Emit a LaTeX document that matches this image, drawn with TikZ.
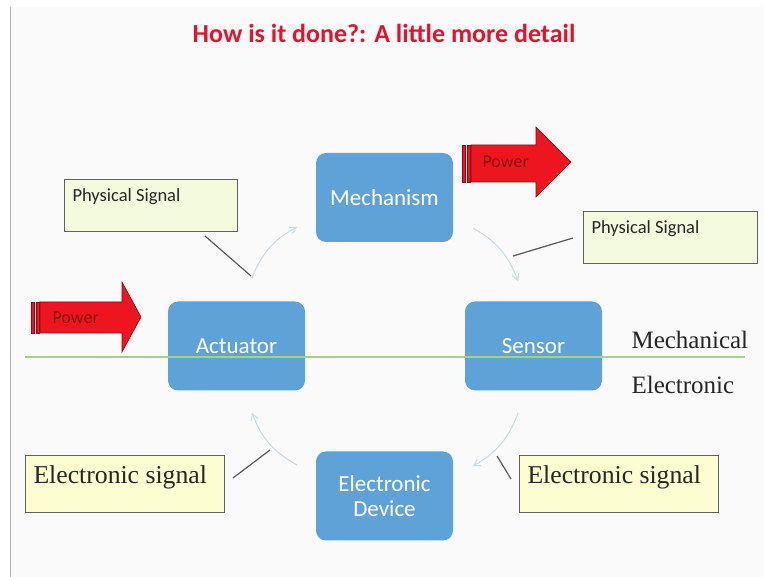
\documentclass[tikz,border=0pt]{standalone}
\usepackage{fontspec}
\setmainfont{Liberation Serif}
\newfontfamily\carlitofont{Carlito}
\usetikzlibrary{arrows.meta}
\definecolor{boxblue}{HTML}{5FA2D8}
\definecolor{titlered}{HTML}{E2142D}
\definecolor{arrred}{HTML}{EC1520}
\definecolor{arrdark}{HTML}{8A0A10}
\definecolor{psfill}{HTML}{F4FADC}
\definecolor{esfill}{HTML}{FCFED2}
\definecolor{lineg}{HTML}{A6D08A}
\definecolor{flowc}{HTML}{C4DDE2}
\definecolor{slidebg}{HTML}{FAFAFA}
\tikzset{
  blockbox/.style={draw=none, fill=boxblue, rounded corners=10pt, text=white,
    font=\carlitofont\fontsize{23}{25}\selectfont, align=center, minimum width=137pt, minimum height=89pt, inner sep=0pt},
  sigbox/.style={draw=gray!75!black, line width=0.8pt, anchor=north west, inner sep=0pt},
  pslabel/.style={anchor=west, font=\carlitofont\fontsize{18.5}{20}\selectfont, text=black!85},
  eslabel/.style={anchor=west, font=\fontsize{25.7}{28}\selectfont, text=black!85},
  pointer/.style={draw=gray!70!black, line width=1.2pt},
  flow/.style={draw=flowc, line width=1pt, -{Straight Barb[length=6pt,width=7pt]}},
  redarrow/.style={fill=arrred, draw=arrdark, line width=0.6pt},
  powertext/.style={anchor=west, font=\carlitofont\fontsize{18}{20}\selectfont, text=arrdark},
  sidetext/.style={anchor=west, font=\fontsize{25}{28}\selectfont, text=black!85}
}
\begin{document}
\begin{tikzpicture}[x=1pt, y=-1pt]
\useasboundingbox (0,0) rectangle (764,577);
\fill[white] (0,0) rectangle (764,577);
\fill[slidebg] (10,7) rectangle (764,577);
\draw[gray!60, line width=0.8pt] (10,7) -- (10,577);

% title
\node[font=\carlitofont\bfseries\fontsize{26}{28}\selectfont, text=titlered] (title) at (384,33) {How is it done?: A little more detail};

% main blocks
\node[blockbox] (mech) at (384.5,197.5) {Mechanism};
\node[blockbox] (act) at (236.5,346) {Actuator};
\node[blockbox] (sens) at (533.5,346) {Sensor};
\node[blockbox] (edev) at (384.5,496) {Electronic\\Device};

% dividing line
\coordinate (gl) at (25,357);
\coordinate (gr) at (745,357);
\draw[lineg, line width=1.3pt] (gl) -- (gr);
\node[sidetext] (mechtxt) at (628,340) {Mechanical};
\node[sidetext] (electxt) at (628,385) {Electronic};

% signal boxes
\node[sigbox, fill=psfill, minimum width=173pt, minimum height=52pt] (ps1) at (64,179) {};
\node[pslabel] (ps1t) at ([xshift=5pt,yshift=-18pt]ps1.north west) {Physical Signal};
\node[sigbox, fill=psfill, minimum width=174pt, minimum height=52pt] (ps2) at (583,211) {};
\node[pslabel] (ps2t) at ([xshift=5pt,yshift=-18pt]ps2.north west) {Physical Signal};
\node[sigbox, fill=esfill, minimum width=199pt, minimum height=57pt] (es1) at (25,455) {};
\node[eslabel] (es1t) at ([xshift=5pt,yshift=-22pt]es1.north west) {Electronic signal};
\node[sigbox, fill=esfill, minimum width=199pt, minimum height=57pt] (es2) at (519,455) {};
\node[eslabel] (es2t) at ([xshift=5pt,yshift=-22pt]es2.north west) {Electronic signal};

% flow arrows
\coordinate (f1a) at (252,278); \coordinate (f1b) at (297,227);
\coordinate (f2a) at (473,228); \coordinate (f2b) at (518,281);
\coordinate (f3a) at (518,413); \coordinate (f3b) at (473,466);
\coordinate (f4a) at (297,465); \coordinate (f4b) at (252,413);
\draw[flow] (f1a) to[bend left=20] (f1b);
\draw[flow] (f2a) to[bend left=20] (f2b);
\draw[flow] (f3a) to[bend left=20] (f3b);
\draw[flow] (f4a) to[bend left=20] (f4b);

% pointer lines
\coordinate (p1a) at (205,236); \coordinate (p1b) at (251,276);
\coordinate (p2a) at (573,238); \coordinate (p2b) at (513,256);
\coordinate (p3a) at (233,478); \coordinate (p3b) at (270,450);
\coordinate (p4a) at (497,456); \coordinate (p4b) at (511,479);
\draw[pointer] (p1a) -- (p1b);
\draw[pointer] (p2a) -- (p2b);
\draw[pointer] (p3a) -- (p3b);
\draw[pointer] (p4a) -- (p4b);

% power arrows
\draw[redarrow] (31,302) rectangle (34,333);
\draw[redarrow] (36,302) rectangle (39,333);
\draw[redarrow] (40,302) -- (122,302) -- (122,282) -- (141,317) -- (122,352) -- (122,333) -- (40,333) -- cycle;
\node[powertext] (pw1) at (49,318) {Power};

\draw[redarrow] (462,145) rectangle (465,182);
\draw[redarrow] (467,145) rectangle (470,182);
\draw[redarrow] (471,145) -- (536,145) -- (536,127) -- (571,162) -- (536,197) -- (536,182) -- (471,182) -- cycle;
\node[powertext] (pw2) at (479,162) {Power};
\end{tikzpicture}
\end{document}
